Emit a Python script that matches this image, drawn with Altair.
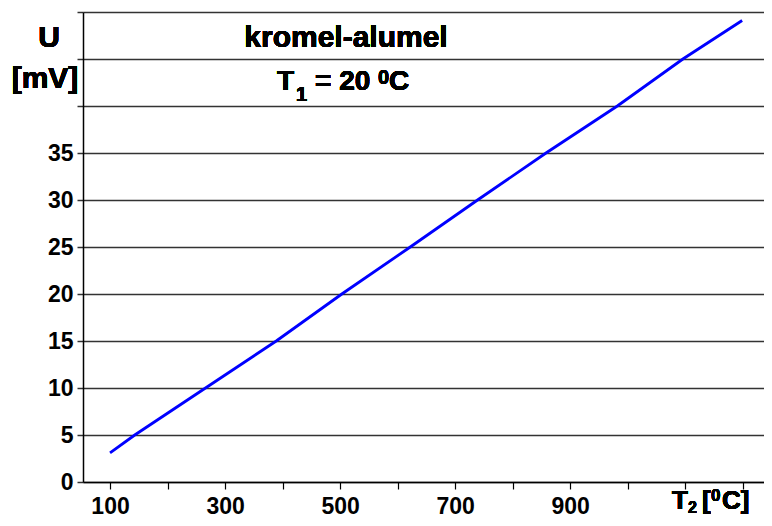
import altair as alt
import pandas as pd

# temperature of hot junction T2 [°C] and thermo-voltage U [mV]
t2_values = [100, 143, 266, 389, 503, 622, 739, 858, 982, 1096, 1199]
u_values = [3.1, 5, 10, 15, 20, 25, 30, 35, 40, 45, 49.1]

x_ticks = [100, 200, 300, 400, 500, 600, 700, 800, 900, 1000, 1100, 1200]
y_ticks = [0, 5, 10, 15, 20, 25, 30, 35, 40, 45, 50]

df = pd.DataFrame({"T2": t2_values, "U": u_values})

FONT = "Liberation Sans"
W, H = 681, 470

line = alt.Chart(df).mark_line(color="#0000FF", strokeWidth=2.8).encode(
    x=alt.X(
        "T2:Q",
        scale=alt.Scale(domain=[53, 1237], nice=False, zero=False),
        axis=alt.Axis(
            values=x_ticks,
            grid=False,
            title=None,
            labelExpr="(datum.value <= 900 && (datum.value - 100) % 200 == 0) ? datum.label : ''",
            labelFont=FONT,
            labelFontSize=23,
            labelFontWeight="bold",
            labelColor="black",
            labelPadding=6,
            tickSize=7,
            tickColor="black",
            tickWidth=1.2,
            domainColor="black",
            domainWidth=1.5,
            format="d",
        ),
    ),
    y=alt.Y(
        "U:Q",
        scale=alt.Scale(domain=[0, 50], nice=False),
        axis=alt.Axis(
            values=y_ticks,
            grid=True,
            gridColor="#333333",
            gridWidth=1.5,
            title=None,
            labelExpr="datum.value <= 35 ? datum.label : ''",
            labelFont=FONT,
            labelFontSize=23,
            labelFontWeight="bold",
            labelColor="black",
            labelPadding=4,
            tickSize=6,
            tickColor="#333333",
            tickWidth=1.5,
            domainColor="black",
            domainWidth=1.5,
            format="d",
        ),
    ),
)


def txt(s, x, y, size, align="left"):
    return alt.Chart(df).mark_text(
        text=s,
        font=FONT,
        fontSize=size,
        fontWeight="bold",
        color="black",
        align=align,
        baseline="alphabetic",
    ).encode(x=alt.value(x), y=alt.value(y))


labels = [
    txt("U", -34, 35, 30, "center"),
    txt("[mV]", -38, 76, 30, "center"),
    txt("kromel-alumel", 263, 35, 30, "center"),
    # T1 = 20 0C
    txt("T", 194, 78, 28),
    txt("1", 213, 89, 20),
    txt("= 20", 232, 78, 28),
    txt("0", 295, 72, 20),
    txt("C", 306, 78, 28),
    # T2 [0C]
    txt("T", 589, 497, 26),
    txt("2", 605, 501, 16),
    txt("[", 619, 497, 26),
    txt("0", 628, 489, 17),
    txt("C]", 639, 497, 26),
]

chart = alt.layer(line, *labels).properties(
    width=W,
    height=H,
    autosize=alt.AutoSizeParams(type="none"),
    padding={"left": 75, "top": 4, "right": 0, "bottom": 36},
    background="white",
).configure_view(stroke=None)

chart.save("out.html", embed_options={"renderer": "svg", "actions": False})
